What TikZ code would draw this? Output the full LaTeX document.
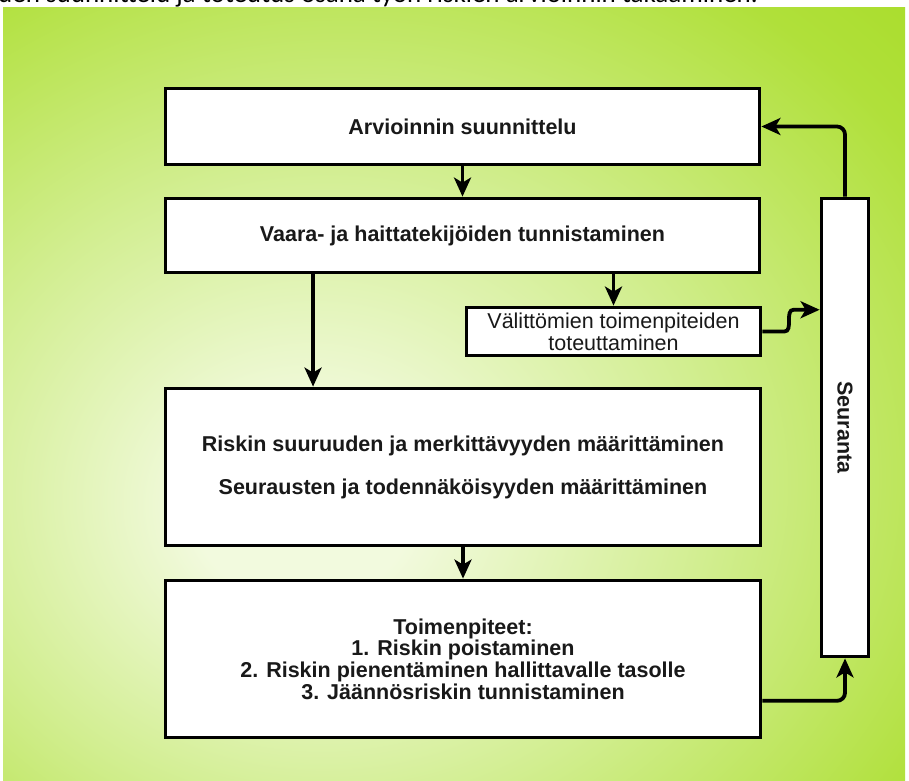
\documentclass[tikz,border=0pt]{standalone}
\usepackage{fontspec}
\setmainfont{Liberation Sans}
\newfontfamily\topfont{Carlito}
\usetikzlibrary{arrows.meta,calc}
\definecolor{bgA}{RGB}{242,250,222}
\definecolor{bgB}{RGB}{210,238,145}
\definecolor{bgC}{RGB}{176,224,58}
\definecolor{bgD}{RGB}{155,214,12}
\definecolor{txt}{RGB}{25,25,25}
\pgfdeclareradialshading{bgshade}{\pgfpoint{-9bp}{-8bp}}{color(0bp)=(bgA); color(6bp)=(bgA); color(21bp)=(bgB); color(37bp)=(bgC); color(56bp)=(bgD); color(90bp)=(bgD)}
\tikzset{
  box/.style={draw=black, line width=3.8pt, fill=white, inner sep=0pt, text=txt, align=center},
  boldtxt/.style={font=\fontsize{21.5}{21.7}\selectfont\bfseries},
  regtxt/.style={font=\fontsize{21.5}{22}\selectfont},
  arr/.style={line width=3.8pt, draw=black, -{Stealth[length=19pt,width=17pt,inset=5pt]}}
}
\begin{document}
\begin{tikzpicture}[x=1pt,y=-1pt]
\useasboundingbox (0,0) rectangle (909,780);
\fill[white] (0,0) rectangle (909,780);
\shade[shading=bgshade] (3,7.5) rectangle (905,780);
\begin{scope}
  \clip (0,0) rectangle (909,7.5);
  \node[anchor=base west, inner sep=0pt, text=black, font=\topfont\fontsize{27}{30}\selectfont] (top) at (-2,2.5) {den suunnittelu ja toteutus osana työn riskien arvioinnin takaaminen.};
\end{scope}

\node[box, boldtxt, minimum width=594pt, minimum height=76pt] (b1) at (462.5,126.5) {Arvioinnin suunnittelu};
\node[box, boldtxt, minimum width=594pt, minimum height=74pt] (b2) at (462.5,235.5) {Vaara- ja haittatekijöiden tunnistaminen};
\node[box, regtxt, minimum width=294pt, minimum height=48pt] (b3) at (613.5,331.5) {Välittömien toimenpiteiden\\toteuttaminen};
\node[box, font=\fontsize{21.5}{43}\selectfont\bfseries, minimum width=595pt, minimum height=157pt] (b4) at (463,467) {Riskin suuruuden ja merkittävyyden määrittäminen\\Seurausten ja todennäköisyyden määrittäminen};
\node[box, boldtxt, minimum width=595pt, minimum height=157pt] (b5) at (463,659) {Toimenpiteet:\\1. Riskin poistaminen\\2. Riskin pienentäminen hallittavalle tasolle\\3. Jäännösriskin tunnistaminen};
\node[box, minimum width=47pt, minimum height=458pt] (s) at (845,427.5) {};
\node[rotate=-90, boldtxt, text=txt, inner sep=0pt] (slabel) at (s.center) {Seuranta};

\coordinate (p24) at ($(b2.south west)!0.25!(b2.south east)$);
\coordinate (sIn) at ($(s.north west)!0.245!(s.south west)$);
\coordinate (kink) at ($(sIn)+(-26,0)$);
\coordinate (b5out) at ($(b5.north east)!0.76!(b5.south east)$);

\draw[arr] (b1.south) -- (b2.north);
\draw[arr] (p24) -- (p24 |- b4.north);
\draw[arr] (b3.north |- b2.south) -- (b3.north);
\draw[arr] (b3.east) -- ++(22,0) to[out=0,in=180] (kink) -- (sIn);
\draw[arr, rounded corners=8pt] (s.north) |- (b1.east);
\draw[arr] (b4.south) -- (b5.north);
\draw[arr, rounded corners=8pt] (b5out) -| (s.south);
\end{tikzpicture}
\end{document}
